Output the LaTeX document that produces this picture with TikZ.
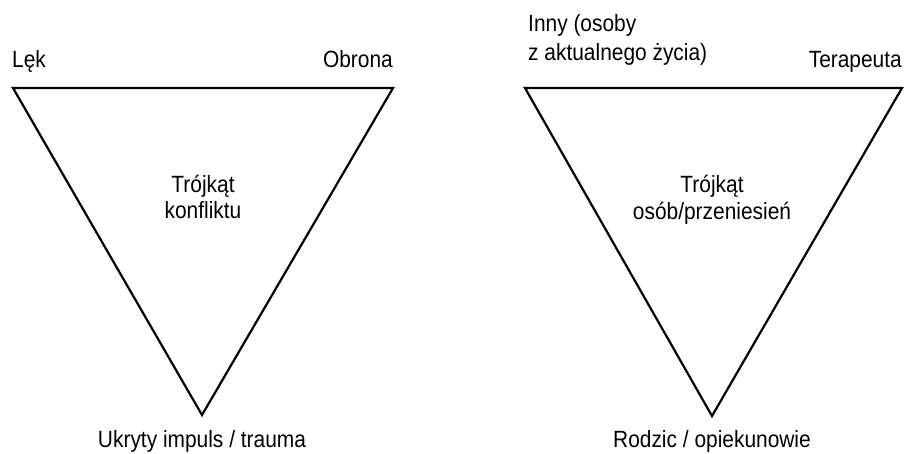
\documentclass[tikz,border=0pt]{standalone}
\usepackage{fontspec}
\setmainfont{Liberation Sans}[FakeStretch=0.89]
\begin{document}
\begin{tikzpicture}[x=1pt,y=-1pt,
  tri/.style={draw=black,line width=2.2pt,line join=miter},
  lbl/.style={font=\fontsize{23.5}{28}\selectfont,inner sep=0pt,text=black},
  ctr/.style={lbl,align=center}]
\useasboundingbox (0,0) rectangle (906,454);
% left triangle
\coordinate (a1) at (13,88);
\coordinate (b1) at (393,88);
\coordinate (c1) at (202,415);
\draw[tri] (a1) -- (b1) -- (c1) -- cycle;
\node[lbl,anchor=base west] (lek) at (12,68) {Lęk};
\node[lbl,anchor=base east] (obr) at (393,68) {Obrona};
\node[lbl,anchor=base] (uk) at (202,448) {Ukryty impuls / trauma};
\node[ctr,anchor=base] (t1) at (203,193) {Trójkąt};
\node[ctr,anchor=base] (k1) at (203,219) {konfliktu};
% right triangle
\coordinate (a2) at (525,88);
\coordinate (b2) at (902,88);
\coordinate (c2) at (712,416);
\draw[tri] (a2) -- (b2) -- (c2) -- cycle;
\node[lbl,anchor=base west] (inny) at (528,32) {Inny (osoby};
\node[lbl,anchor=base west] (zakt) at (528,61) {z aktualnego życia)};
\node[lbl,anchor=base east] (ter) at (902,68) {Terapeuta};
\node[lbl,anchor=base] (rodz) at (712,448) {Rodzic / opiekunowie};
\node[ctr,anchor=base] (t2) at (712,193) {Trójkąt};
\node[ctr,anchor=base] (o2) at (712,220) {osób/przeniesień};
\end{tikzpicture}
\end{document}
